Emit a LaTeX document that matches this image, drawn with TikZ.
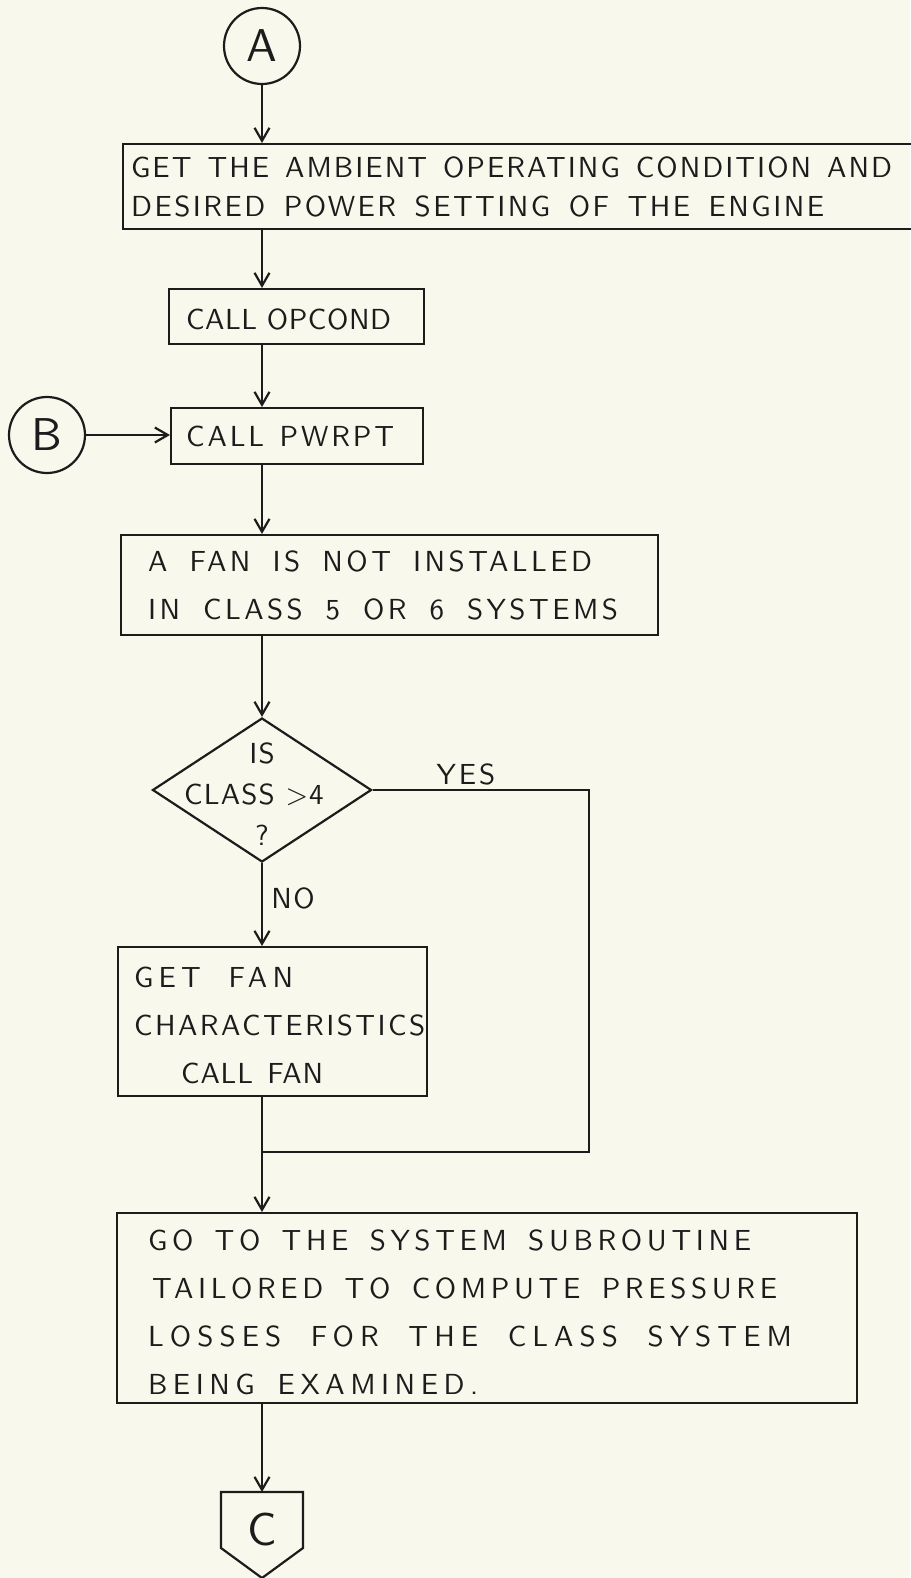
\documentclass[tikz,border=0pt]{standalone}
\usepackage{fontspec}
\usetikzlibrary{arrows.meta,shapes.geometric,calc}
\definecolor{paper}{RGB}{248,248,236}
\definecolor{ink}{RGB}{28,28,28}
\newfontfamily\hwfam{lmsans10-regular.otf}
\newcommand{\handtxt}[3]{\hwfam\fontsize{#2}{#3}\selectfont\addfontfeatures{LetterSpace=#1}}
\newcommand{\lsp}[1]{\addfontfeatures{LetterSpace=#1}}
\newcommand{\fitline}[3]{\leavevmode{\lsp{#2}\hbox to #1{\spaceskip=9pt plus 1fil\relax #3}}}
\begin{document}
\begin{tikzpicture}[x=1pt,y=-1pt,
  every node/.style={text=ink},
  line/.style={draw=ink, line width=2.2pt},
  arr/.style={line, -{Straight Barb[length=13pt,width=15pt]}},
  box/.style={draw=ink, line width=2.2pt, rectangle, anchor=north west, align=left, inner ysep=0pt},
  conn/.style={draw=ink, line width=2.2pt, circle, minimum size=76pt, inner sep=0pt, font={\handtxt{0}{46}{50}}},
  lbl/.style={inner sep=0pt}
]
\fill[paper] (0,0) rectangle (910,1578);
\useasboundingbox (0,0) rectangle (910,1578);

% connectors A and B
\node[conn] (A) at (262,46) {A};
\node[conn] (B) at (47,435) {B};

% boxes
\node[box, minimum height=85pt, inner xsep=8pt, text width=777pt, font={\handtxt{0}{29}{39}}]
  (box1) at (122,143) {\fitline{761pt}{7}{GET THE AMBIENT OPERATING CONDITION AND}\\\fitline{693pt}{8.5}{DESIRED POWER SETTING OF THE ENGINE}};
\node[box, minimum height=55pt, inner xsep=17pt, text width=221pt, font={\handtxt{0}{29}{40}}]
  (box2) at (168,288) {\rule{0pt}{26pt}\fitline{205pt}{2}{CALL OPCOND}};
\node[box, minimum height=56pt, inner xsep=15pt, text width=222pt, font={\handtxt{0}{29}{40}}]
  (box3) at (170,407) {\fitline{208pt}{10}{CALL PWRPT}};
\node[box, minimum height=100pt, inner xsep=27pt, text width=483pt, font={\handtxt{0}{29}{48}}]
  (box4) at (120,534) {\fitline{444pt}{12}{A FAN IS NOT INSTALLED}\\\fitline{470pt}{12}{IN CLASS 5 OR 6 SYSTEMS}};

% decision
\node[draw=ink, line width=2.2pt, diamond, minimum width=219pt, minimum height=144pt, inner sep=0pt]
  (dec) at (262,790) {};
\node[font={\handtxt{4}{29}{41}}, align=center, inner sep=0pt] (dectxt) at ($(dec.center)+(0,4)$) {IS\\\hspace*{-16pt}CLASS >4\\?};

\node[box, minimum height=149pt, inner xsep=16pt, text width=277pt, font={\handtxt{0}{29}{48}}]
  (box5) at (117,946) {\rule{0pt}{28pt}\fitline{159pt}{18}{GET FAN}\\{\lsp{8.5}CHARACTERISTICS}\\\hspace*{47pt}\fitline{142pt}{3}{CALL FAN}};

\node[box, minimum height=190pt, inner xsep=31pt, text width=678pt, font={\handtxt{0}{29}{48}}]
  (box6) at (116,1212) {\rule{0pt}{30pt}\fitline{603pt}{16}{GO TO THE SYSTEM SUBROUTINE}\\\hspace*{4pt}\fitline{625pt}{16}{TAILORED TO COMPUTE PRESSURE}\\\fitline{644pt}{21}{LOSSES FOR THE CLASS SYSTEM}\\\fitline{330pt}{19}{BEING EXAMINED.}};

% off-page connector C
\node[font={\handtxt{0}{46}{50}}, inner sep=0pt, minimum width=82pt] (cterm) at (262,1529) {C};
\draw[line, line join=miter] ($(cterm.center)+(-41,-37)$) -- ($(cterm.center)+(41,-37)$)
  -- ($(cterm.center)+(41,19)$) -- ($(cterm.center)+(0,49)$) -- ($(cterm.center)+(-41,19)$) -- cycle;
\coordinate (ctop) at ($(cterm.center)+(0,-37)$);

% labels
\node[lbl, font={\handtxt{10}{29}{40}}] (yes) at (466,774) {YES};
\node[lbl, font={\handtxt{5}{29}{40}}] (no) at (293,898) {NO};

% routing points
\coordinate (yescorner) at (589,790);
\coordinate (join) at (262,1152);

% connectors
\draw[arr] (A.south) -- (A.south |- box1.north);
\draw[arr] (A |- box1.south) -- (A |- box2.north);
\draw[arr] (A |- box2.south) -- (A |- box3.north);
\draw[arr] (B.east) -- (B.east -| box3.west);
\draw[arr] (A |- box3.south) -- (A |- box4.north);
\draw[arr] (A |- box4.south) -- (dec.north);
\draw[arr] (dec.south) -- (dec.south |- box5.north);
\draw[line] (dec.east) -- (yescorner) |- (join);
\draw[line] (join |- box5.south) -- (join);
\draw[arr] (join) -- (join |- box6.north);
\draw[arr] (join |- box6.south) -- (ctop);
\end{tikzpicture}
\end{document}
